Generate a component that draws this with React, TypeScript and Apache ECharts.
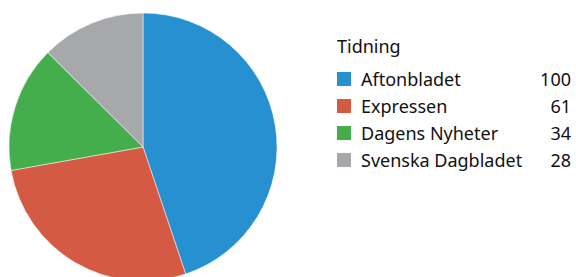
import React, { useEffect, useRef } from "react";
import * as echarts from "echarts";

const categories = ["Aftonbladet", "Expressen", "Dagens Nyheter", "Svenska Dagbladet"];
const values = [100, 61, 34, 28];
const colors = ["#2790d0", "#d55a44", "#43ae4b", "#a7a8ac"];
const legendTitle = "Tidning";

export default function App() {
  const ref = useRef<HTMLDivElement>(null);
  useEffect(() => {
    document.body.style.margin = "0";
    const chart = echarts.init(ref.current!, null, { renderer: "svg" });
    const font = "Noto Sans";
    chart.setOption({
      animation: false,
      backgroundColor: "#ffffff",
      title: {
        text: legendTitle,
        left: 332,
        top: 32,
        textStyle: { fontFamily: font, fontSize: 18, fontWeight: "normal", color: "#111111" },
      },
      legend: {
        orient: "vertical",
        left: 337,
        top: 70,
        padding: 0,
        itemWidth: 14,
        itemHeight: 14,
        itemGap: 9,
        itemStyle: { borderWidth: 0 },
        icon: "rect",
        data: categories,
        formatter: (name: string) => {
          const i = categories.indexOf(name);
          return `{s| }{n|${name}}{v|${values[i]}}`;
        },
        textStyle: {
          fontFamily: font,
          fontSize: 18,
          color: "#111111",
          rich: {
            s: { fontFamily: font, fontSize: 18, lineHeight: 16, width: 5 },
            n: { fontFamily: font, fontSize: 18, lineHeight: 16, color: "#111111", width: 172 },
            v: { fontFamily: font, fontSize: 18, lineHeight: 16, color: "#111111", width: 38, align: "right" },
          },
        },
      },
      series: [
        {
          type: "pie",
          center: [143, 147],
          radius: 134,
          startAngle: 90,
          clockwise: true,
          label: { show: false },
          labelLine: { show: false },
          itemStyle: { borderWidth: 0.5, borderColor: "#ffffff" },
          emphasis: { disabled: true },
          data: categories.map((c, i) => ({ name: c, value: values[i], itemStyle: { color: colors[i] } })),
        },
      ],
    });
    return () => chart.dispose();
  }, []);
  return <div ref={ref} style={{ width: 576, height: 277, position: "absolute", left: 0, top: 0 }} />;
}
